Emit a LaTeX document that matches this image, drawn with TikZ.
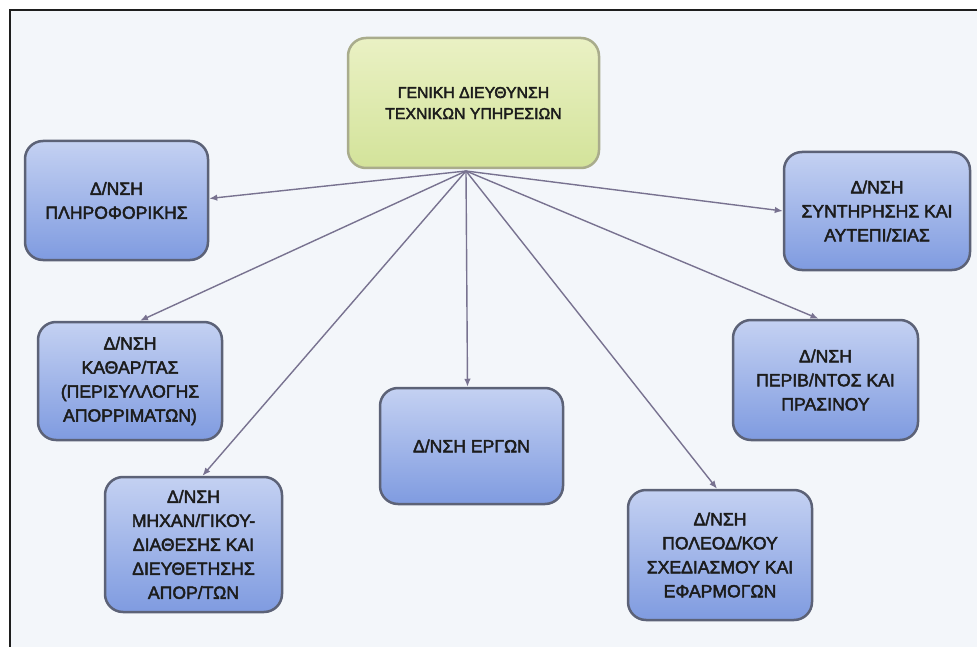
\documentclass[tikz,border=0pt]{standalone}
\usepackage{fontspec}
\setmainfont{Liberation Sans}
\newfontfamily\boxfont[FakeBold=2.5]{Liberation Sans}
\usetikzlibrary{arrows.meta}

\definecolor{pagebg}{HTML}{F3F6FA}
\definecolor{framec}{HTML}{1E1E1E}
\definecolor{bluetop}{HTML}{C4D1F2}
\definecolor{bluebot}{HTML}{7F9BE0}
\definecolor{blueedge}{HTML}{5C6277}
\definecolor{greentop}{HTML}{EAF1C4}
\definecolor{greenbot}{HTML}{D3E39A}
\definecolor{greenedge}{HTML}{A9AC8C}
\definecolor{linkc}{HTML}{787290}
\definecolor{textc}{HTML}{1C1C1C}

\tikzset{
  deptbox/.style={draw=blueedge, line width=2.5pt, rounded corners=18pt,
    top color=bluetop, bottom color=bluebot, inner sep=0pt,
    align=center, text=textc,
    font=\boxfont\fontsize{17.6}{24}\selectfont},
  headbox/.style={draw=greenedge, line width=2.5pt, rounded corners=18pt,
    top color=greentop, bottom color=greenbot, inner sep=0pt,
    align=center, text=textc,
    font=\boxfont\fontsize{15.8}{21}\selectfont},
  link/.style={draw=linkc, line width=1.4pt,
    -{Latex[length=8pt,width=6.5pt]}}
}

\begin{document}
\begin{tikzpicture}[x=1pt,y=-1pt]
  % page and scan frame
  \fill[white] (0,0) rectangle (977,647);
  \useasboundingbox (0,0) rectangle (977,647);
  \fill[pagebg] (10,10) rectangle (977,647);
  \draw[framec, line width=2.4pt] (10,647) -- (10,10) -- (977,10);

  % head office
  \node[headbox, minimum width=251pt, minimum height=130pt] (head) at (473.5,103)
    {ΓΕΝΙΚΗ ΔΙΕΥΘΥΝΣΗ\\ΤΕΧΝΙΚΩΝ ΥΠΗΡΕΣΙΩΝ};
  \coordinate (hub) at (466,171);

  % departments
  \node[deptbox, minimum width=183pt, minimum height=119pt] (plir) at (116.5,200.5)
    {Δ/ΝΣΗ\\ΠΛΗΡΟΦΟΡΙΚΗΣ};
  \node[deptbox, minimum width=184pt, minimum height=118pt] (kathar) at (130,381)
    {Δ/ΝΣΗ\\ΚΑΘΑΡ/ΤΑΣ\\(ΠΕΡΙΣΥΛΛΟΓΗΣ\\ΑΠΟΡΡΙΜΑΤΩΝ)};
  \node[deptbox, minimum width=177pt, minimum height=135pt] (mixan) at (193.5,544.5)
    {Δ/ΝΣΗ\\ΜΗΧΑΝ/ΓΙΚΟΥ-\\ΔΙΑΘΕΣΗΣ ΚΑΙ\\ΔΙΕΥΘΕΤΗΣΗΣ\\ΑΠΟΡ/ΤΩΝ};
  \node[deptbox, minimum width=183pt, minimum height=116pt] (ergon) at (471.5,446)
    {Δ/ΝΣΗ ΕΡΓΩΝ};
  \node[deptbox, minimum width=184pt, minimum height=130pt] (poleod) at (720,555)
    {Δ/ΝΣΗ\\ΠΟΛΕΟΔ/ΚΟΥ\\ΣΧΕΔΙΑΣΜΟΥ ΚΑΙ\\ΕΦΑΡΜΟΓΩΝ};
  \node[deptbox, minimum width=185pt, minimum height=120pt] (perib) at (825.5,380)
    {Δ/ΝΣΗ\\ΠΕΡΙΒ/ΝΤΟΣ ΚΑΙ\\ΠΡΑΣΙΝΟΥ};
  \node[deptbox, minimum width=186pt, minimum height=118pt] (synt) at (877,211)
    {Δ/ΝΣΗ\\ΣΥΝΤΗΡΗΣΗΣ ΚΑΙ\\ΑΥΤΕΠΙ/ΣΙΑΣ};

  % links from the head office
  \draw[link] (hub) -- ([yshift=2pt]plir.east);
  \draw[link] (hub) -- ([xshift=10pt]kathar.north);
  \draw[link] (hub) -- ([xshift=9pt]mixan.north);
  \draw[link] (hub) -- ([xshift=-4pt]ergon.north);
  \draw[link] (hub) -- ([xshift=-3pt]poleod.north);
  \draw[link] (hub) -- ([xshift=-7pt]perib.north);
  \draw[link] (hub) -- (synt.west);
\end{tikzpicture}
\end{document}
